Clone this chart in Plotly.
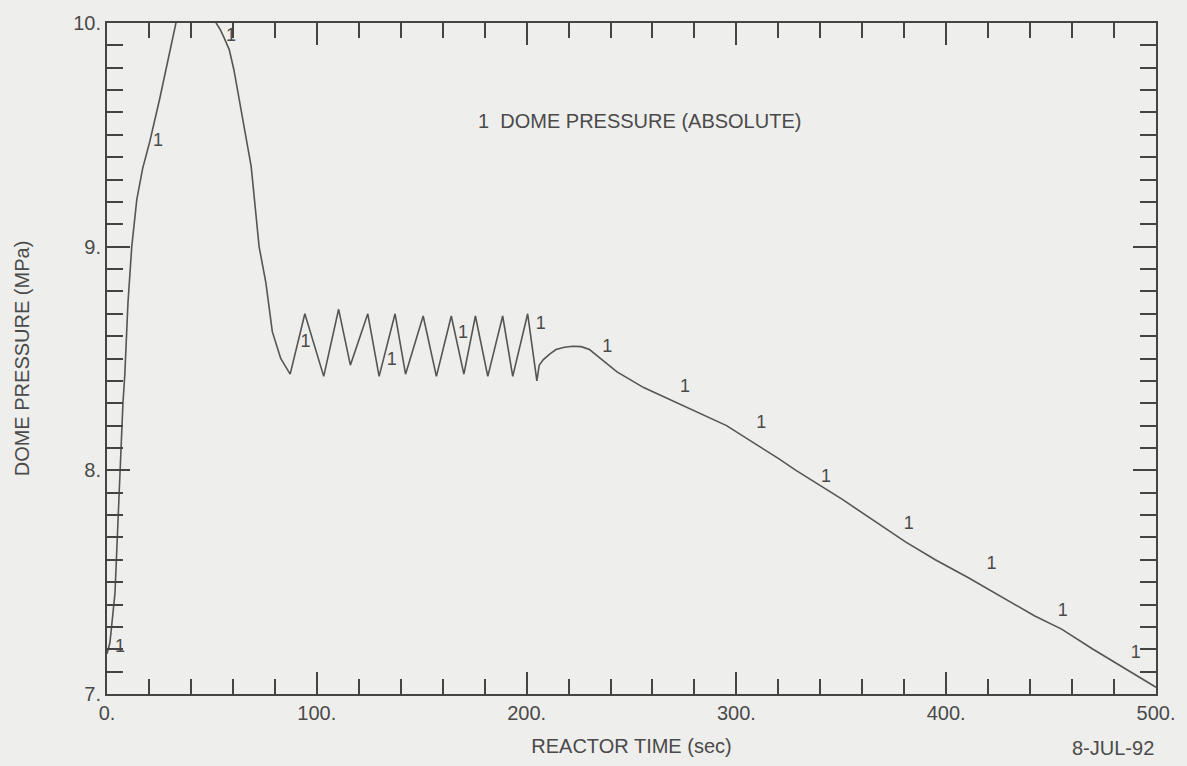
import plotly.graph_objects as go

# Dome pressure curve
time_s = [0.0, 1.4, 3.8, 6.2, 7.6, 8.5, 10.0, 11.8, 14.2, 17.0, 20.4, 25.1, 29.9, 32.7,
          34.0, 38.0, 42.0, 46.0, 50.0,
          52.0, 54.0, 56.0, 58.3, 60.5, 63.0, 66.0, 68.7, 70.5, 72.5, 75.7, 78.8, 82.8, 87.3,
          94.3, 103.3, 110.4, 116.0, 124.3, 129.7, 137.3, 142.3, 150.7, 157.0,
          164.1, 170.1, 175.6, 181.5, 188.6, 193.4, 200.5, 204.9,
          206.0, 208.0, 211.0, 214.0, 218.0, 222.0, 226.0, 230.0, 234.0, 238.0, 243.1,
          255.8, 274.7, 295.3, 320.5, 328.4, 350.5, 356.9, 380.6, 394.8, 410.6,
          442.0, 455.0, 470.0, 500.0]
pressure_mpa = [7.18, 7.23, 7.45, 8.00, 8.30, 8.43, 8.75, 9.00, 9.21, 9.35, 9.47, 9.66, 9.88, 10.00,
                10.05, 10.12, 10.15, 10.13, 10.05,
                10.00, 9.97, 9.93, 9.88, 9.79, 9.66, 9.51, 9.36, 9.19, 9.00, 8.84, 8.62, 8.50, 8.43,
                8.70, 8.42, 8.72, 8.47, 8.70, 8.42, 8.70, 8.43, 8.69, 8.42,
                8.69, 8.43, 8.69, 8.42, 8.69, 8.42, 8.70, 8.40,
                8.47, 8.495, 8.52, 8.54, 8.55, 8.555, 8.553, 8.54, 8.51, 8.48, 8.44,
                8.37, 8.29, 8.20, 8.05, 8.00, 7.87, 7.83, 7.68, 7.60, 7.52,
                7.35, 7.29, 7.20, 7.03]

# Curve symbol "1" positions
symbol_t = [6.2, 24.3, 59.1, 94.6, 135.7, 169.7, 206.8, 238.4, 275.5, 311.8, 342.7, 382.1, 421.6, 455.6, 490.4]
symbol_p = [7.21, 9.47, 9.94, 8.57, 8.49, 8.61, 8.65, 8.55, 8.37, 8.21, 7.97, 7.76, 7.58, 7.37, 7.18]

x_tickvals = [0, 100, 200, 300, 400, 500]
x_ticktext = ["0.", "100.", "200.", "300.", "400.", "500."]
y_tickvals = [7, 8, 9, 10]
y_ticktext = ["7.", "8.", "9.", "10."]

ink = "#4a4a4a"
paper = "#eeeeec"
font_family = "Liberation Sans, Arial, sans-serif"

fig = go.Figure()
fig.add_trace(go.Scatter(x=time_s, y=pressure_mpa, mode="lines",
                         line=dict(color="#555555", width=1.6, shape="linear"), showlegend=False,
                         name="DOME PRESSURE"))
fig.add_trace(go.Scatter(x=symbol_t, y=symbol_p, mode="text", text=["1"] * len(symbol_t),
                         textfont=dict(size=18, color=ink, family=font_family),
                         showlegend=False, hoverinfo="skip"))

fig.add_annotation(x=175.8, y=9.56, xref="x", yref="y", text="1&nbsp;&nbsp;DOME PRESSURE (ABSOLUTE)",
                   showarrow=False, xanchor="left", yanchor="middle",
                   font=dict(size=20, color=ink, family=font_family))
fig.add_annotation(x=1.0, y=-0.08, xref="paper", yref="paper", text="8-JUL-92",
                   showarrow=False, xanchor="right", yanchor="middle",
                   font=dict(size=20, color=ink, family=font_family))

axis_common = dict(showline=True, linecolor="#444444", linewidth=2, mirror="allticks",
                   ticks="inside", tickcolor="#444444", tickwidth=1.5, showgrid=False,
                   zeroline=False, tickfont=dict(size=20, color=ink, family=font_family))

fig.update_xaxes(range=[0, 500], tickvals=x_tickvals, ticktext=x_ticktext, ticklen=22,
                 minor=dict(dtick=20, tick0=0, ticks="inside", ticklen=15, tickwidth=1.5,
                            tickcolor="#444444", showgrid=False),
                 title=dict(text="REACTOR TIME (sec)", standoff=16,
                            font=dict(size=20, color=ink, family=font_family)),
                 **axis_common)
fig.update_yaxes(range=[7, 10], tickvals=y_tickvals, ticktext=y_ticktext, ticklen=23,
                 minor=dict(dtick=0.1, tick0=7, ticks="inside", ticklen=16, tickwidth=1.5,
                            tickcolor="#444444", showgrid=False),
                 title=dict(text="DOME PRESSURE (MPa)", standoff=38,
                            font=dict(size=20, color=ink, family=font_family)),
                 **axis_common)

fig.update_layout(width=1187, height=766, paper_bgcolor=paper, plot_bgcolor=paper,
                  margin=dict(l=107, r=25, t=23, b=68), showlegend=False,
                  font=dict(family=font_family, color=ink))

fig.write_html("out.html", config={"displayModeBar": False},
               post_script="document.body.style.margin='0';document.body.style.background='#eeeeec';")
